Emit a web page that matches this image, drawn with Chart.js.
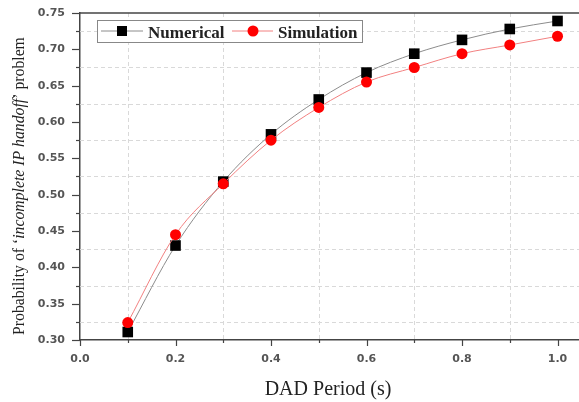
<!DOCTYPE html>
<html>
<head>
<meta charset="utf-8">
<script src="https://cdn.jsdelivr.net/npm/chart.js@4.4.0/dist/chart.umd.min.js"></script>
<style>
  body { margin: 0; background: #fff; }
  #wrap { width: 579px; height: 402px; }
</style>
</head>
<body>
<div id="wrap"><canvas id="grafik" width="579" height="402"></canvas></div>
<script>
// DAD period (s)
const dadPeriod = [0.1, 0.2, 0.3, 0.4, 0.5, 0.6, 0.7, 0.8, 0.9, 1.0];
const numerical = [0.311, 0.430, 0.518, 0.583, 0.631, 0.668, 0.694, 0.713, 0.728, 0.739];
const simulation = [0.324, 0.445, 0.515, 0.575, 0.620, 0.655, 0.675, 0.694, 0.706, 0.718];

// ticks (every second one gets a label, the others carry the dashed grid)
const xTicks = [0, 0.1, 0.2, 0.3, 0.4, 0.5, 0.6, 0.7, 0.8, 0.9, 1.0];
const yTicks = [0.3, 0.325, 0.35, 0.375, 0.4, 0.425, 0.45, 0.475, 0.5, 0.525, 0.55,
                0.575, 0.6, 0.625, 0.65, 0.675, 0.7, 0.725, 0.75];

const serif = "'Liberation Serif', 'Times New Roman', serif";
const tickFont = { family: "'DejaVu Sans', sans-serif", size: 11, weight: 'bold' };

function toPoints(ys) {
    return dadPeriod.map((x, i) => ({ x: x, y: ys[i] }));
}

// dashed grid on the minor ticks only
const gridMinor = {
    id: 'gridMinor',
    beforeDatasetsDraw(chart) {
        const ctx = chart.ctx;
        const area = chart.chartArea;
        const sx = chart.scales.x, sy = chart.scales.y;
        ctx.save();
        ctx.strokeStyle = '#d9d9d9';
        ctx.lineWidth = 1;
        ctx.setLineDash([4, 3]);
        sx.ticks.forEach((t, i) => {
            if (i % 2 === 0) return;
            const px = Math.round(sx.getPixelForValue(t.value)) + 0.5;
            ctx.beginPath();
            ctx.moveTo(px, area.top);
            ctx.lineTo(px, area.bottom);
            ctx.stroke();
        });
        sy.ticks.forEach((t, i) => {
            if (i % 2 === 0) return;
            const py = Math.round(sy.getPixelForValue(t.value)) + 0.5;
            ctx.beginPath();
            ctx.moveTo(area.left, py);
            ctx.lineTo(area.right, py);
            ctx.stroke();
        });
        ctx.restore();
    }
};

// tick marks, frame top, legend and axis titles
const dekorasi = {
    id: 'dekorasi',
    afterDraw(chart) {
        const ctx = chart.ctx;
        const area = chart.chartArea;
        const sx = chart.scales.x, sy = chart.scales.y;
        ctx.save();
        ctx.strokeStyle = '#444';
        ctx.lineWidth = 1.5;
        // top frame line
        ctx.beginPath();
        ctx.moveTo(area.left, area.top);
        ctx.lineTo(area.right, area.top);
        ctx.stroke();

        ctx.lineWidth = 1.2;
        sx.ticks.forEach((t, i) => {
            const px = Math.round(sx.getPixelForValue(t.value)) + 0.5;
            const len = i % 2 === 0 ? 6 : 3;
            ctx.beginPath();
            ctx.moveTo(px, area.bottom);
            ctx.lineTo(px, area.bottom + len);
            ctx.stroke();
        });
        sy.ticks.forEach((t, i) => {
            const py = Math.round(sy.getPixelForValue(t.value)) + 0.5;
            const len = i % 2 === 0 ? 8 : 4;
            ctx.beginPath();
            ctx.moveTo(area.left - len, py);
            ctx.lineTo(area.left, py);
            ctx.stroke();
        });

        // legend
        const lx = 97, ly = 20, lw = 265, lh = 22, cy = 31;
        ctx.fillStyle = '#fff';
        ctx.fillRect(lx, ly, lw, lh);
        ctx.strokeStyle = '#888';
        ctx.lineWidth = 1;
        ctx.strokeRect(lx + 0.5, ly + 0.5, lw, lh);

        ctx.strokeStyle = '#8c8c8c';
        ctx.beginPath();
        ctx.moveTo(101, cy); ctx.lineTo(143, cy);
        ctx.stroke();
        ctx.fillStyle = '#000';
        ctx.fillRect(117, cy - 5, 10, 10);

        ctx.strokeStyle = '#f28080';
        ctx.beginPath();
        ctx.moveTo(232, cy); ctx.lineTo(273, cy);
        ctx.stroke();
        ctx.fillStyle = '#ff0000';
        ctx.beginPath();
        ctx.arc(253, cy, 5.5, 0, Math.PI * 2);
        ctx.fill();

        ctx.fillStyle = '#222';
        ctx.font = 'bold 17px ' + serif;
        ctx.textBaseline = 'alphabetic';
        ctx.textAlign = 'left';
        ctx.fillText('Numerical', 148, 38);
        ctx.fillText('Simulation', 278, 38);

        // x title
        ctx.font = '20px ' + serif;
        ctx.textAlign = 'center';
        ctx.fillText('DAD Period (s)', 328, 395);

        // y title with italic part
        const parts = [
            ['', 'Probability of \u2018'],
            ['italic ', 'incomplete IP handoff'],
            ['', '\u2019 problem']
        ];
        const target = 298;
        let w100 = 0;
        parts.forEach(p => {
            ctx.font = p[0] + '100px ' + serif;
            w100 += ctx.measureText(p[1]).width;
        });
        const size = 100 * target / w100;
        ctx.translate(24, 186);
        ctx.rotate(-Math.PI / 2);
        let pos = -target / 2;
        ctx.textAlign = 'left';
        parts.forEach(p => {
            ctx.font = p[0] + size + 'px ' + serif;
            ctx.fillText(p[1], pos, 0);
            pos += ctx.measureText(p[1]).width;
        });
        ctx.restore();
    }
};

const ctx = document.getElementById('grafik').getContext('2d');
const config = {
    type: 'scatter',
    data: {
        datasets: [{
            label: 'Numerical',
            data: toPoints(numerical),
            showLine: true,
            borderColor: '#8c8c8c',
            borderWidth: 1,
            cubicInterpolationMode: 'monotone',
            pointStyle: 'rect',
            pointRadius: 7.5,
            pointBackgroundColor: '#000',
            pointBorderColor: '#000',
            pointBorderWidth: 0,
            order: 1,
        }, {
            label: 'Simulation',
            data: toPoints(simulation),
            showLine: true,
            borderColor: '#f28080',
            borderWidth: 1,
            cubicInterpolationMode: 'monotone',
            pointStyle: 'circle',
            pointRadius: 5.5,
            pointBackgroundColor: '#ff0000',
            pointBorderColor: '#ff0000',
            pointBorderWidth: 0,
            order: 0,
        }],
    },
    options: {
        responsive: false,
        animation: false,
        layout: { autoPadding: false, padding: { top: 13, right: 0, left: 0, bottom: 0 } },
        plugins: {
            legend: { display: false },
            tooltip: { enabled: false },
        },
        scales: {
            x: {
                type: 'linear',
                min: 0,
                max: 1.045,
                afterBuildTicks: (scale) => { scale.ticks = xTicks.map(v => ({ value: v })); },
                afterFit: (scale) => {
                    scale.height = 62;
                    scale.paddingRight = 0;
                    scale.paddingLeft = 0;
                },
                ticks: {
                    padding: 13,
                    maxRotation: 0,
                    color: '#555',
                    font: tickFont,
                    callback: (v) => Math.round(v * 10) % 2 === 0 ? v.toFixed(1) : '',
                },
                grid: { display: true, drawOnChartArea: false, drawTicks: false },
                border: { color: '#444', width: 1.5 },
            },
            y: {
                type: 'linear',
                min: 0.3,
                max: 0.75,
                afterBuildTicks: (scale) => { scale.ticks = yTicks.map(v => ({ value: v })); },
                afterFit: (scale) => {
                    scale.width = 80;
                    scale.paddingTop = 0;
                    scale.paddingBottom = 0;
                },
                ticks: {
                    padding: 15,
                    color: '#555',
                    font: tickFont,
                    callback: (v) => Math.round(v * 1000) % 50 === 0 ? v.toFixed(2) : '',
                },
                grid: { display: true, drawOnChartArea: false, drawTicks: false },
                border: { color: '#444', width: 1.5 },
            },
        },
    },
    plugins: [gridMinor, dekorasi],
};

let chart = new Chart(ctx, config);
</script>
</body>
</html>
